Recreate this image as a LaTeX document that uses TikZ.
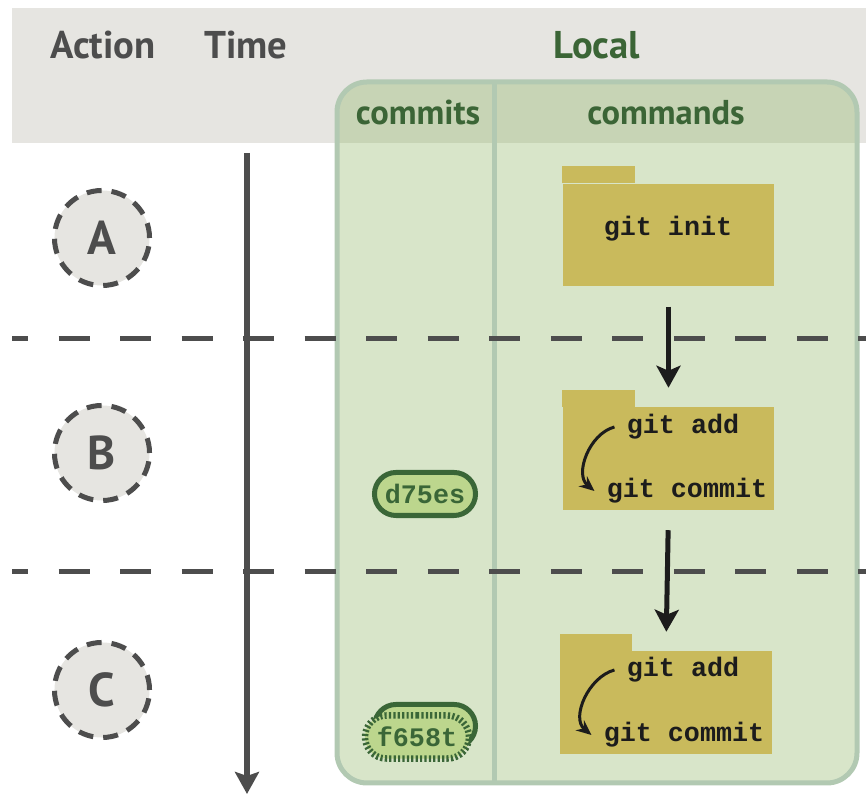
\documentclass[tikz,border=0pt]{standalone}
\usepackage{fontspec}
\setsansfont{PT Sans}
\setmonofont{Liberation Mono}
\usetikzlibrary{arrows.meta,shapes.misc}

\definecolor{bandgray}{HTML}{E6E5E1}
\definecolor{linegray}{HTML}{4D4D4D}
\definecolor{localgreen}{HTML}{90B565}
\definecolor{localedge}{HTML}{B2C9B2}
\definecolor{localtext}{HTML}{3B6536}
\definecolor{foldercol}{HTML}{C9BA5C}
\definecolor{pillfill}{HTML}{BCD68D}
\definecolor{pilldark}{HTML}{3A6637}
\definecolor{inkblack}{HTML}{1C1C1C}

\begin{document}
\begin{tikzpicture}[x=0.01cm,y=-0.01cm,
    head/.style={font=\sffamily\bfseries\fontsize{11}{13}\selectfont},
    subhead/.style={font=\sffamily\bfseries\fontsize{9.8}{12}\selectfont, text=localtext},
    action/.style={circle, draw=linegray, fill=bandgray, line width=0.05cm,
      dash pattern=on 0.15cm off 0.1cm, minimum size=0.95cm, inner sep=0,
      text=linegray, font=\sffamily\bfseries\fontsize{13.5}{15}\selectfont},
    rowline/.style={draw=linegray, line width=0.05cm, dash pattern=on 0.31cm off 0.305cm, dash phase=0.15cm},
    folder/.style={fill=foldercol, minimum width=2.11cm, minimum height=1.02cm, inner sep=0},
    cmd/.style={font=\ttfamily\bfseries\fontsize{7.6}{9}\selectfont, text=inkblack},
    commit/.style={rounded rectangle, draw=pilldark, fill=pillfill, line width=0.05cm,
      minimum width=1.01cm, minimum height=0.43cm, inner sep=0, text=pilldark,
      font=\ttfamily\bfseries\fontsize{7.6}{9}\selectfont},
    flow/.style={draw=inkblack, line width=0.05cm, -{Stealth[length=0.22cm,width=0.24cm,inset=0.05cm]},
      shorten <=0.2cm, shorten >=0.19cm},
    loopback/.style={draw=inkblack, line width=0.03cm, -{Stealth[length=0.15cm,width=0.13cm]}}]
  \useasboundingbox (0,0) rectangle (866,795);

  % header band
  \fill[bandgray] (12,8) rectangle (866,143);

  % local area
  \filldraw[localgreen, fill opacity=0.35, draw=localedge, line width=0.05cm, rounded corners=0.3cm]
    (337,82) rectangle (857,783);
  \draw[localedge, line width=0.05cm] (494,82) -- (494,783);

  % titles
  \node[head, text=linegray] (action-title) at (103,45) {Action};
  \node[head, text=linegray] (time-title) at (246,45) {Time};
  \node[head, text=localtext] (local-title) at (597,45) {Local};
  \node[subhead] (commits-title) at (418,113) {commits};
  \node[subhead] (commands-title) at (666,113) {commands};

  % rows
  \coordinate (row1 west) at (12,339);
  \coordinate (row1 east) at (866,339);
  \coordinate (row2 west) at (12,572);
  \coordinate (row2 east) at (866,572);
  \draw[rowline] (row1 west) -- (row1 east);
  \draw[rowline] (row2 west) -- (row2 east);

  % time axis
  \coordinate (time top) at (247,153);
  \coordinate (time end) at (247,794);
  \draw[linegray, line width=0.05cm, -{Stealth[length=0.22cm,width=0.24cm,inset=0.04cm]}]
    (time top) -- (time end);

  % actions
  \node[action] (a) at (102,238) {A};
  \node[action] (b) at (102,453) {B};
  \node[action] (c) at (102,690) {C};

  % folders
  \node[folder] (init) at (668.5,235) {};
  \fill[foldercol] (init.north west) rectangle +(73,-17);
  \node[cmd] (init-t) at (668,229) {git init};

  \node[folder] (save1) at (668.5,458.5) {};
  \fill[foldercol] (save1.north west) rectangle +(73,-17);
  \node[cmd] (add1) at (683,427) {git add};
  \node[cmd] (commit1) at (687,491) {git commit};

  \node[folder] (save2) at (666,702.5) {};
  \fill[foldercol] (save2.north west) rectangle +(72,-17);
  \node[cmd] (add2) at (683,670) {git add};
  \node[cmd] (commit2) at (684,735) {git commit};

  % arrows
  \draw[flow] (init.south) -- (save1.north);
  \draw[flow] (save1.south) -- (save2.north);
  \draw[loopback] (add1.west) to[out=195, in=140] (commit1.west);
  \draw[loopback] (add2.west) to[out=195, in=140] (commit2.west);

  % commits
  \node[commit] (d75es) at (425,494) {d75es};
  \node[commit] (f658t-old) at (425,726) {};
  \node[commit, line width=0.065cm, dash pattern=on 0.022cm off 0.022cm,
    minimum width=1.04cm, minimum height=0.43cm] (f658t) at (417,737) {f658t};
\end{tikzpicture}
\end{document}
